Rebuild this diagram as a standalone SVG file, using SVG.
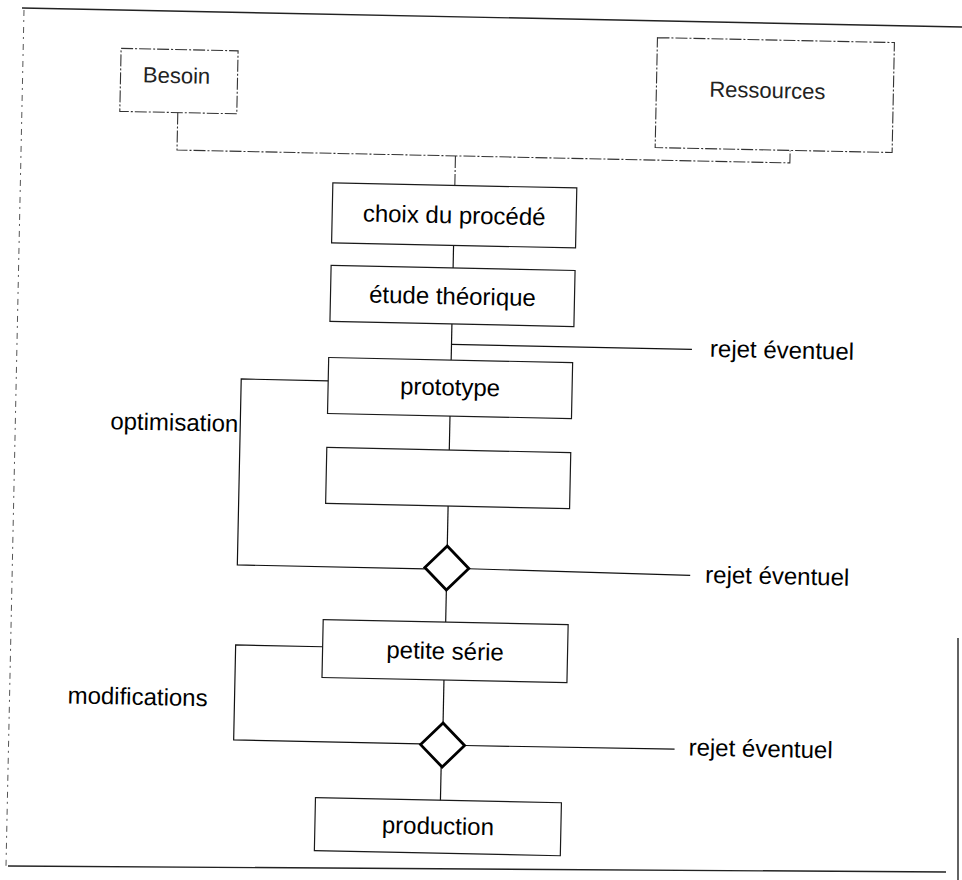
<svg xmlns="http://www.w3.org/2000/svg" width="962" height="880" viewBox="0 0 962 880">
<style>
.box{fill:none;stroke:#1a1a1a;stroke-width:1.2}
.top{fill:none;stroke:#333;stroke-width:1.1;stroke-dasharray:12 2 2 2}
.ln{fill:none;stroke:#111;stroke-width:1.2}
.lnf{fill:none;stroke:#333;stroke-width:1.1;stroke-dasharray:12 2 2 2}
.frame{fill:none;stroke:#222;stroke-width:1.4}
.frameL{fill:none;stroke:#555;stroke-width:1;stroke-dasharray:6 4 2 5}
.dia{fill:#fff;stroke:#000;stroke-width:2.8;stroke-linejoin:miter}
text{font-family:"Liberation Sans",Arial,sans-serif;font-size:24px;fill:#000}
.lt{font-size:22px;fill:#222}
.c{text-anchor:middle}
</style>
<rect width="962" height="880" fill="#fff"/>
<g id="frame">
<line class="frame" x1="22" y1="8" x2="962" y2="27"/>
<line class="frameL" x1="24" y1="10" x2="6" y2="866"/>
<line class="frame" x1="8" y1="866" x2="946" y2="872"/>
<line class="frame" x1="958" y1="638" x2="958" y2="880"/>
</g>
<g id="diagram" transform="rotate(1.2 481 440)">
<g id="connectors">
<polyline class="lnf" points="171,119 171,156.5 784,156.5 784,144"/>
<line class="lnf" x1="449.5" y1="156.5" x2="449.5" y2="186"/>
<line class="ln" x1="449.5" y1="246" x2="449.5" y2="268.6"/>
<line class="ln" x1="449.5" y1="324.6" x2="449.5" y2="360.7"/>
<line class="ln" x1="449.5" y1="345" x2="690" y2="345"/>
<line class="ln" x1="449.5" y1="416.7" x2="449.5" y2="450.7"/>
<line class="ln" x1="449.5" y1="506.7" x2="449.5" y2="546.7"/>
<polyline class="ln" points="327,384 240,384 240,570 427.5,570"/>
<line class="ln" x1="471.5" y1="569" x2="693" y2="571"/>
<line class="ln" x1="449.5" y1="590.7" x2="449.5" y2="622.8"/>
<line class="ln" x1="449" y1="680.8" x2="449" y2="723.8"/>
<polyline class="ln" points="327,650 240,650 240,745 427,745"/>
<line class="ln" x1="471" y1="745.8" x2="681" y2="745"/>
<line class="ln" x1="448" y1="767.8" x2="448" y2="801"/>
</g>
<g id="besoin">
<rect class="top" x="113" y="56" width="117" height="63"/>
<text class="lt c" x="169" y="89.5">Besoin</text>
</g>
<g id="ressources">
<rect class="top" x="649" y="34" width="237" height="110"/>
<text class="lt c" x="760" y="92">Ressources</text>
</g>
<g id="choix">
<rect class="box" x="327.5" y="186" width="244" height="60"/>
<text class="c" x="449.5" y="224">choix du procédé</text>
</g>
<g id="etude">
<rect class="box" x="327.5" y="268.6" width="244" height="56"/>
<text class="c" x="449.5" y="305">étude théorique</text>
</g>
<g id="rejet1"><text x="708" y="352">rejet éventuel</text></g>
<g id="prototype">
<rect class="box" x="327" y="360.7" width="244" height="56"/>
<text class="c" x="449" y="396">prototype</text>
</g>
<g id="optimisation"><text x="110" y="437">optimisation</text></g>
<g id="vide">
<rect class="box" x="327" y="450.7" width="244" height="56"/>
</g>
<g id="decision1">
<polygon class="dia" points="449.5,546.7 471.5,568.7 449.5,590.7 427.5,568.7"/>
</g>
<g id="rejet2"><text x="708" y="578">rejet éventuel</text></g>
<g id="petite">
<rect class="box" x="327" y="622.8" width="245" height="58"/>
<text class="c" x="449.5" y="660">petite série</text>
</g>
<g id="modifications"><text x="73" y="712">modifications</text></g>
<g id="decision2">
<polygon class="dia" points="449,723.8 471,745.8 449,767.8 427,745.8"/>
</g>
<g id="rejet3"><text x="695" y="751">rejet éventuel</text></g>
<g id="production">
<rect class="box" x="323" y="801" width="246" height="53"/>
<text class="c" x="446" y="835">production</text>
</g>
</g>
</svg>
